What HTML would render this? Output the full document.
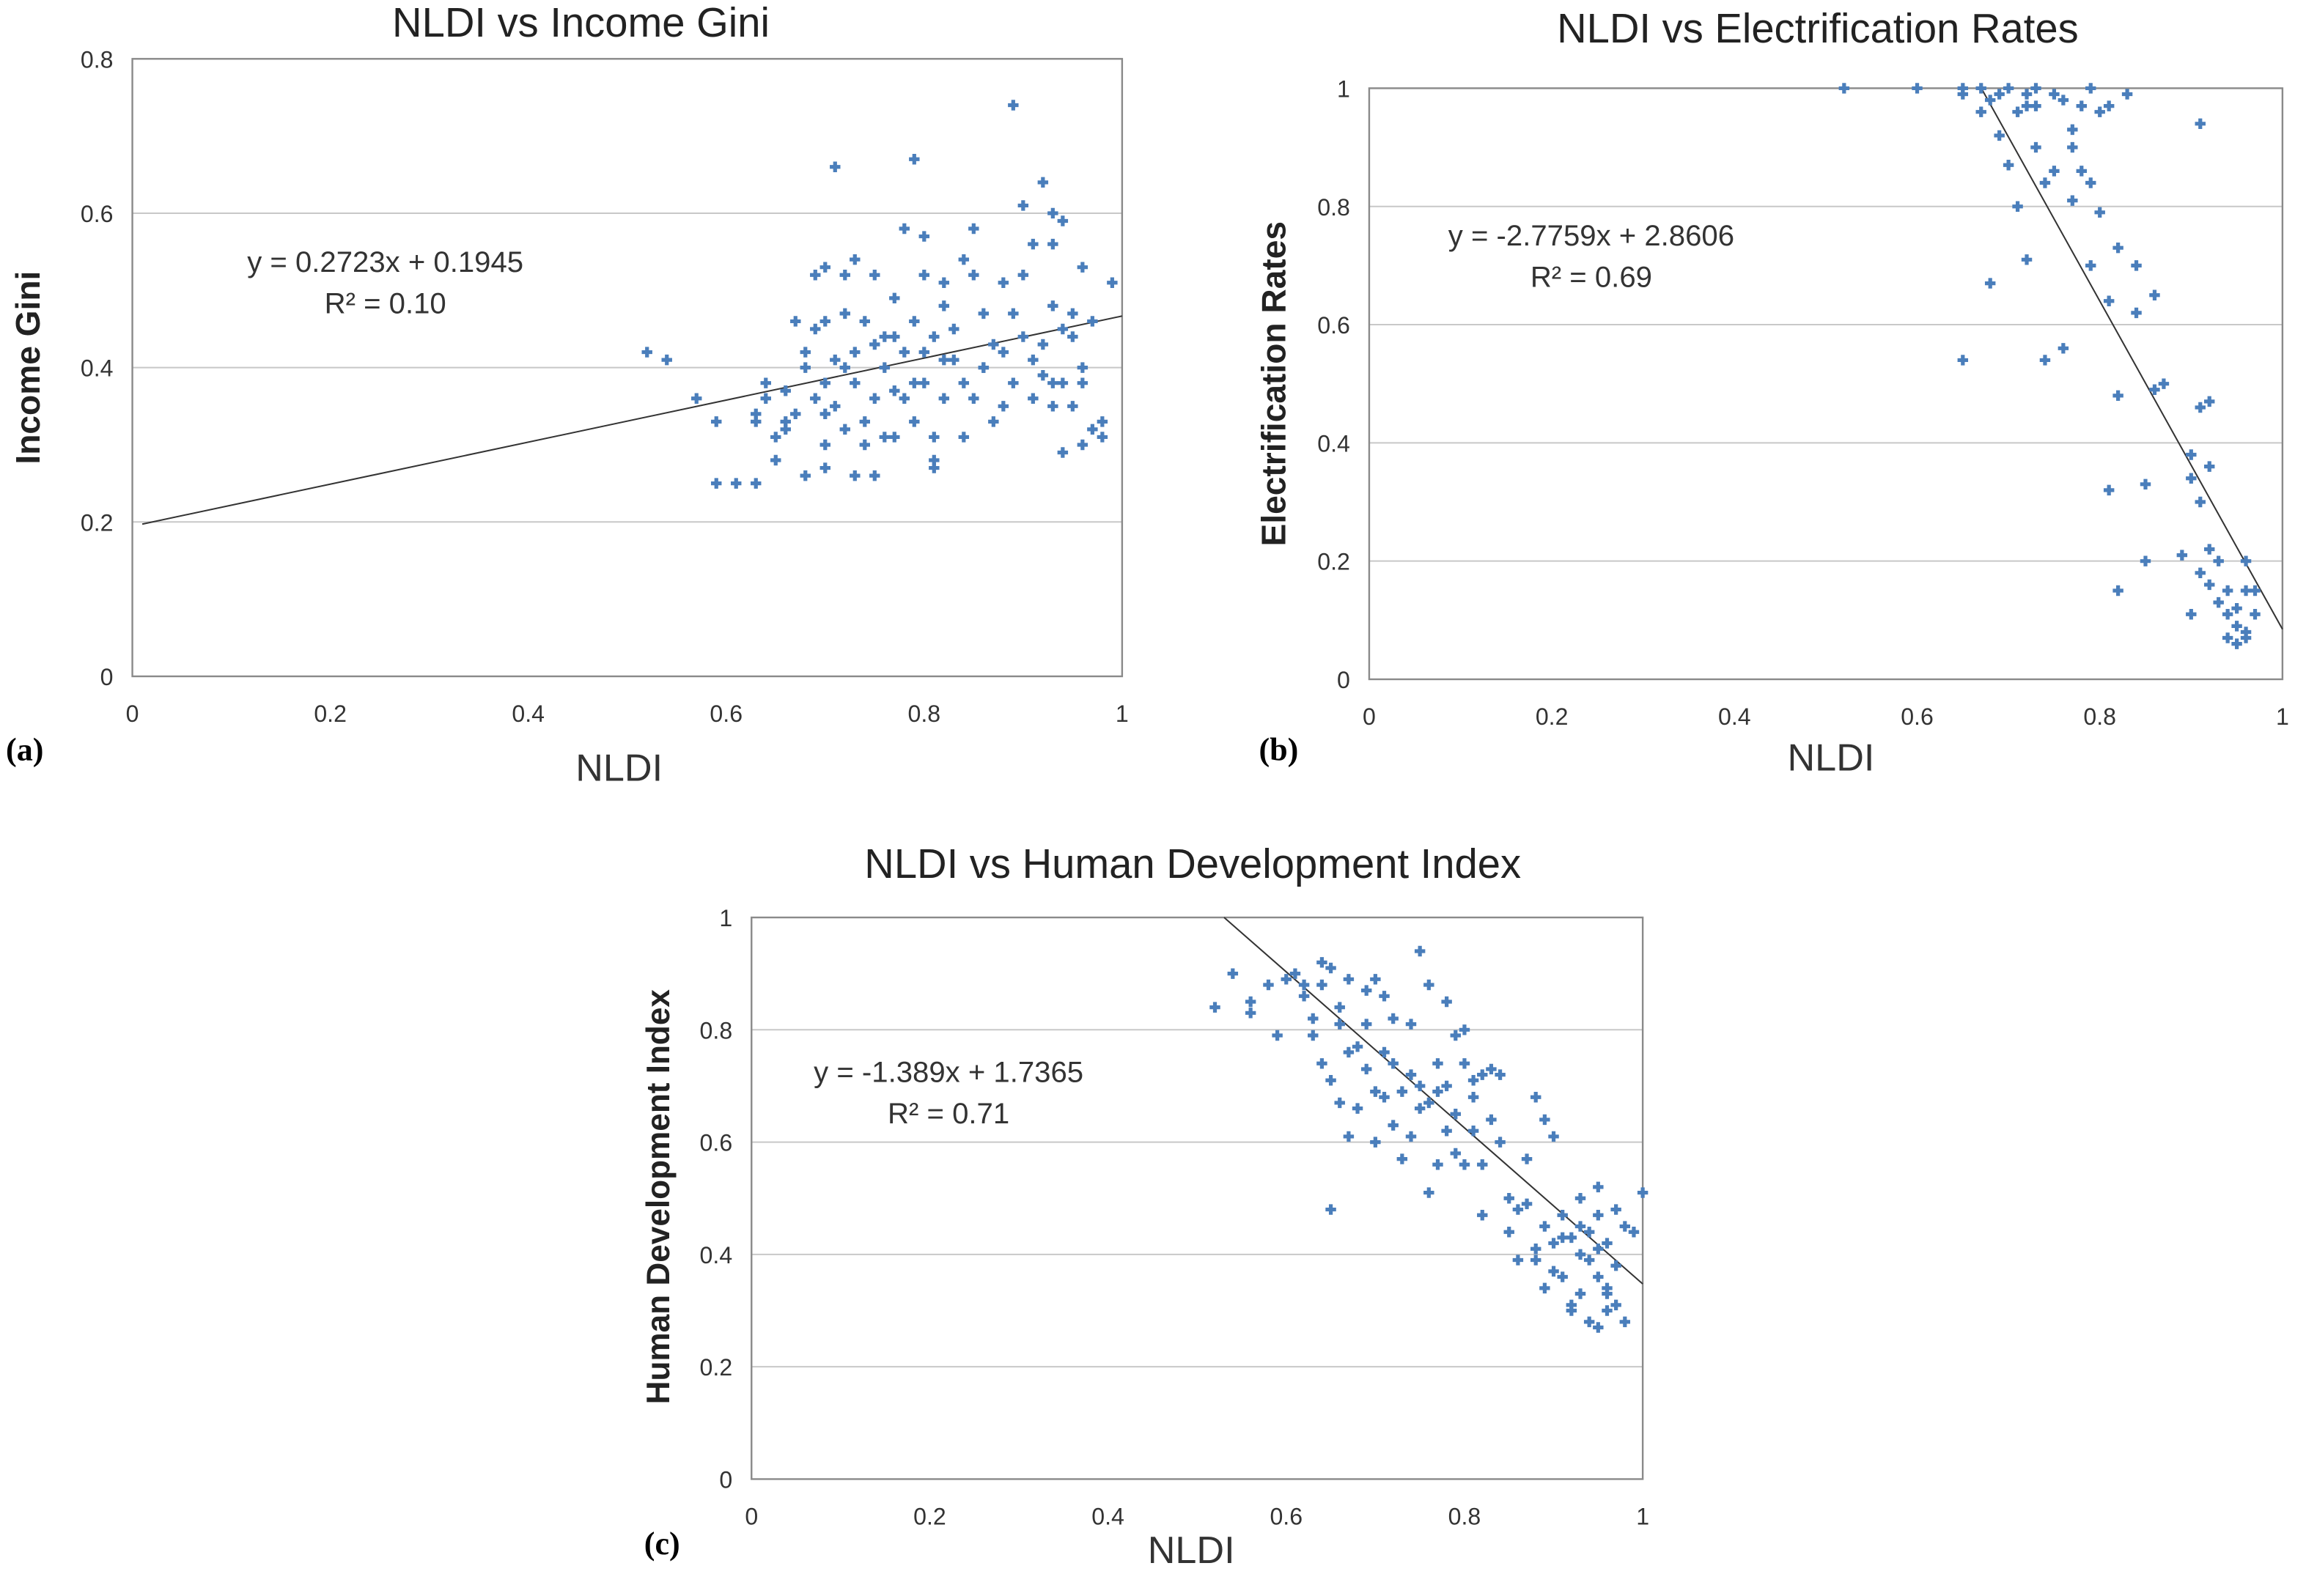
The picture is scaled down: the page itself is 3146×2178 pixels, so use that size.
<!DOCTYPE html>
<html><head><meta charset="utf-8">
<style>
html,body{margin:0;padding:0;background:#fff;}
svg{display:block;font-family:"Liberation Sans",sans-serif;}
</style></head>
<body>
<svg id="fig" width="3146" height="2178" viewBox="0 0 1568 1085.5" xmlns="http://www.w3.org/2000/svg"></svg>
<script>
// ---- data ----
const incomeGiniPoints = [[0.52,0.42],[0.54,0.41],[0.57,0.36],[0.59,0.33],[0.59,0.25],[0.61,0.25],[0.63,0.25],[0.63,0.33],[0.63,0.34],[0.64,0.38],[0.64,0.36],[0.65,0.31],[0.65,0.28],[0.66,0.33],[0.66,0.32],[0.66,0.37],[0.67,0.46],[0.67,0.34],[0.68,0.26],[0.68,0.40],[0.68,0.42],[0.69,0.45],[0.69,0.52],[0.69,0.36],[0.70,0.27],[0.70,0.30],[0.70,0.34],[0.70,0.38],[0.70,0.46],[0.70,0.53],[0.71,0.66],[0.71,0.41],[0.71,0.35],[0.72,0.47],[0.72,0.40],[0.72,0.52],[0.72,0.32],[0.73,0.26],[0.73,0.54],[0.73,0.42],[0.73,0.38],[0.74,0.33],[0.74,0.46],[0.74,0.30],[0.75,0.26],[0.75,0.36],[0.75,0.43],[0.75,0.52],[0.76,0.31],[0.76,0.44],[0.76,0.40],[0.77,0.31],[0.77,0.37],[0.77,0.44],[0.77,0.49],[0.78,0.58],[0.78,0.36],[0.78,0.42],[0.79,0.67],[0.79,0.38],[0.79,0.33],[0.79,0.46],[0.80,0.42],[0.80,0.38],[0.80,0.57],[0.80,0.52],[0.81,0.28],[0.81,0.27],[0.81,0.31],[0.81,0.44],[0.82,0.41],[0.82,0.36],[0.82,0.48],[0.82,0.51],[0.83,0.41],[0.83,0.45],[0.84,0.31],[0.84,0.54],[0.84,0.38],[0.85,0.58],[0.85,0.52],[0.85,0.36],[0.86,0.47],[0.86,0.40],[0.87,0.43],[0.87,0.33],[0.88,0.51],[0.88,0.42],[0.89,0.74],[0.89,0.47],[0.89,0.38],[0.90,0.61],[0.90,0.52],[0.90,0.44],[0.91,0.56],[0.91,0.41],[0.91,0.36],[0.92,0.64],[0.92,0.43],[0.92,0.39],[0.93,0.60],[0.93,0.56],[0.93,0.48],[0.93,0.38],[0.94,0.59],[0.94,0.29],[0.94,0.45],[0.94,0.38],[0.95,0.47],[0.95,0.44],[0.95,0.35],[0.96,0.53],[0.96,0.40],[0.96,0.38],[0.96,0.30],[0.97,0.46],[0.97,0.32],[0.98,0.33],[0.99,0.51],[0.98,0.31],[0.93,0.35],[0.88,0.35],[0.86,0.40]];
const electrificationPoints = [[0.52,1.0],[0.60,1.0],[0.65,1.0],[0.65,0.99],[0.67,0.96],[0.67,1.0],[0.68,0.67],[0.65,0.54],[0.68,0.98],[0.69,0.92],[0.69,0.99],[0.70,1.0],[0.70,0.87],[0.71,0.96],[0.71,0.80],[0.72,0.71],[0.72,0.99],[0.72,0.97],[0.73,0.90],[0.73,1.0],[0.73,0.97],[0.74,0.54],[0.74,0.84],[0.75,0.86],[0.75,0.99],[0.76,0.56],[0.76,0.98],[0.77,0.93],[0.77,0.81],[0.77,0.90],[0.78,0.86],[0.78,0.97],[0.79,0.84],[0.79,0.70],[0.79,1.0],[0.80,0.96],[0.80,0.79],[0.81,0.64],[0.81,0.97],[0.81,0.32],[0.82,0.15],[0.82,0.73],[0.82,0.48],[0.83,0.99],[0.84,0.70],[0.84,0.62],[0.85,0.20],[0.85,0.33],[0.86,0.65],[0.86,0.49],[0.87,0.50],[0.89,0.21],[0.90,0.34],[0.90,0.38],[0.90,0.11],[0.91,0.94],[0.91,0.30],[0.91,0.18],[0.91,0.46],[0.92,0.47],[0.92,0.22],[0.92,0.36],[0.92,0.16],[0.93,0.13],[0.93,0.20],[0.94,0.07],[0.94,0.11],[0.94,0.15],[0.95,0.06],[0.95,0.09],[0.95,0.12],[0.96,0.07],[0.96,0.20],[0.96,0.15],[0.97,0.11],[0.97,0.15],[0.96,0.08]];
const hdiPoints = [[0.52,0.84],[0.54,0.90],[0.56,0.85],[0.56,0.83],[0.58,0.88],[0.59,0.79],[0.60,0.89],[0.61,0.90],[0.62,0.88],[0.62,0.86],[0.63,0.82],[0.63,0.79],[0.64,0.92],[0.64,0.88],[0.64,0.74],[0.65,0.91],[0.65,0.48],[0.65,0.71],[0.66,0.84],[0.66,0.81],[0.66,0.67],[0.67,0.76],[0.67,0.61],[0.67,0.89],[0.68,0.77],[0.68,0.66],[0.69,0.81],[0.69,0.73],[0.69,0.87],[0.70,0.89],[0.70,0.60],[0.70,0.69],[0.71,0.86],[0.71,0.76],[0.71,0.68],[0.72,0.63],[0.72,0.82],[0.72,0.74],[0.73,0.69],[0.73,0.57],[0.74,0.81],[0.74,0.61],[0.74,0.72],[0.75,0.94],[0.75,0.66],[0.75,0.70],[0.76,0.51],[0.76,0.88],[0.76,0.67],[0.77,0.69],[0.77,0.74],[0.77,0.56],[0.78,0.62],[0.78,0.70],[0.78,0.85],[0.79,0.79],[0.79,0.58],[0.79,0.65],[0.80,0.80],[0.80,0.56],[0.80,0.74],[0.81,0.68],[0.81,0.71],[0.81,0.62],[0.82,0.72],[0.82,0.47],[0.82,0.56],[0.83,0.73],[0.83,0.64],[0.84,0.72],[0.84,0.60],[0.85,0.50],[0.85,0.44],[0.86,0.39],[0.86,0.48],[0.87,0.49],[0.87,0.57],[0.88,0.68],[0.88,0.39],[0.88,0.41],[0.89,0.45],[0.89,0.64],[0.89,0.34],[0.90,0.42],[0.90,0.37],[0.90,0.61],[0.91,0.43],[0.91,0.36],[0.91,0.47],[0.92,0.31],[0.92,0.43],[0.92,0.30],[0.93,0.45],[0.93,0.33],[0.93,0.50],[0.94,0.28],[0.94,0.44],[0.94,0.39],[0.95,0.27],[0.95,0.47],[0.95,0.52],[0.95,0.36],[0.96,0.30],[0.96,0.42],[0.96,0.33],[0.97,0.48],[0.97,0.31],[0.97,0.38],[0.98,0.45],[0.98,0.28],[0.99,0.44],[1.0,0.51],[0.95,0.41],[0.93,0.40],[0.96,0.34]];
const xTicks = [0,0.2,0.4,0.6,0.8,1];
const xTickLabels = ["0","0.2","0.4","0.6","0.8","1"];
const yTicksA = [0,0.2,0.4,0.6,0.8];
const yTickLabelsA = ["0","0.2","0.4","0.6","0.8"];
const yTicksB = [0,0.2,0.4,0.6,0.8,1];
const yTickLabelsB = ["0","0.2","0.4","0.6","0.8","1"];
const trendA = [0.2723, 0.1945];
const trendB = [-2.7759, 2.8606];
const trendC = [-1.389, 1.7365];

const NS = "http://www.w3.org/2000/svg";
const svg = document.getElementById('fig');
function el(tag, attrs, parent, text){
  const e = document.createElementNS(NS, tag);
  for (const k in attrs) e.setAttribute(k, attrs[k]);
  if (text !== undefined) e.textContent = text;
  (parent||svg).appendChild(e);
  return e;
}

function chart(cfg){
  const g = el('g', {});
  
  
  const sx = v => cfg.x0 + (v - 0) / (1 - 0) * (cfg.x1 - cfg.x0);
  const sy = v => cfg.yb + (v - 0) / (cfg.ymax) * (cfg.yt - cfg.yb);
  cfg.yTicks.forEach((t,i) => {
    if (t > 0) {
      const l = el('line', {x1:cfg.x0, x2:cfg.x1, y1:sy(t), y2:sy(t), stroke:'#c8c8c8', 'stroke-width':1}, g);
      
      
    }
    const tl = el('text', {x:cfg.x0-13, y:sy(t)+6, 'text-anchor':'end', 'font-size':16, fill:'#333'}, g, cfg.yLabels[i]);
    
    
  });
  xTicks.forEach((t,i) => {
    const tl = el('text', {x:sx(t), y:cfg.yb+31, 'text-anchor':'middle', 'font-size':16, fill:'#333'}, g, xTickLabels[i]);
    
    
  });
  const box = el('rect', {x:cfg.x0, y:cfg.yt, width:cfg.x1-cfg.x0, height:cfg.yb-cfg.yt, fill:'none', stroke:'#8a8a8a', 'stroke-width':1.2}, g);
  
  
  const m = cfg.trend[0], b = cfg.trend[1];
  let xa = cfg.tx0, xb = 1;
  let ya = m*xa+b, yb2 = m*xb+b;
  if (ya > cfg.ymax) { xa = (cfg.ymax-b)/m; ya = cfg.ymax; }
  const tl = el('line', {x1:sx(xa), y1:sy(ya), x2:sx(xb), y2:sy(yb2), stroke:'#333', 'stroke-width':1}, g);
  
  
  cfg.points.forEach(p => {
    const cx = sx(p[0]), cy = sy(p[1]);
    const d = `M${cx-1.3},${cy-3.6}h2.6v2.3h2.3v2.6h-2.3v2.3h-2.6v-2.3h-2.3v-2.6h2.3z`;
    const pt = el('path', {d:d, fill:'#4a7ebb'}, g);
    
    
  });
  const ti = el('text', {x:cfg.titleX, y:cfg.titleY, 'text-anchor':'middle', 'font-size':28, fill:'#222'}, g, cfg.title);
  
  
  const xt = el('text', {x:cfg.xtX, y:cfg.xtY, 'text-anchor':'middle', 'font-size':26, fill:'#333'}, g, 'NLDI');
  
  
  const yt = el('text', {x:0, y:0, transform:`translate(${cfg.ytX},${cfg.ytY}) rotate(-90)`, 'text-anchor':'middle', 'font-size':cfg.ytSize, 'font-weight':'bold', fill:'#222'}, g, cfg.yTitle);
  
  
  const e1 = el('text', {x:cfg.eqX, y:cfg.eqY, 'text-anchor':'middle', 'font-size':20, fill:'#333'}, g, cfg.eq);
  
  
  const e2 = el('text', {x:cfg.eqX, y:cfg.eqY+28, 'text-anchor':'middle', 'font-size':20, fill:'#333'}, g, cfg.r2);
  
  
  const pl = el('text', {x:cfg.plX, y:cfg.plY, 'font-size':22, 'font-weight':'bold', 'font-family':'"Liberation Serif",serif', fill:'#000'}, g, cfg.panel);
  
  
}

chart({name:'chart-income-gini', x0:90, x1:763, yt:40, yb:460, ymax:0.8, yTicks:yTicksA, yLabels:yTickLabelsA,
  points:incomeGiniPoints, trend:trendA, tx0:0.01, title:'NLDI vs Income Gini', titleX:395, titleY:25,
  xtX:421, xtY:531, yTitle:'Income Gini', ytX:27, ytY:250, ytSize:23,
  eq:'y = 0.2723x + 0.1945', r2:'R² = 0.10', eqX:262, eqY:185, panel:'(a)', plX:4, plY:517});
chart({name:'chart-electrification', x0:931, x1:1552, yt:60, yb:462, ymax:1, yTicks:yTicksB, yLabels:yTickLabelsB,
  points:electrificationPoints, trend:trendB, tx0:0, title:'NLDI vs Electrification Rates', titleX:1236, titleY:29,
  xtX:1245, xtY:524, yTitle:'Electrification Rates', ytX:874, ytY:261, ytSize:23,
  eq:'y = -2.7759x + 2.8606', r2:'R² = 0.69', eqX:1082, eqY:167, panel:'(b)', plX:856, plY:517});
chart({name:'chart-hdi', x0:511, x1:1117, yt:624, yb:1006, ymax:1, yTicks:yTicksB, yLabels:yTickLabelsB,
  points:hdiPoints, trend:trendC, tx0:0, title:'NLDI vs Human Development Index', titleX:811, titleY:597,
  xtX:810, xtY:1063, yTitle:'Human Development Index', ytX:455, ytY:814, ytSize:22,
  eq:'y = -1.389x + 1.7365', r2:'R² = 0.71', eqX:645, eqY:736, panel:'(c)', plX:438, plY:1057});
</script>
</body></html>
